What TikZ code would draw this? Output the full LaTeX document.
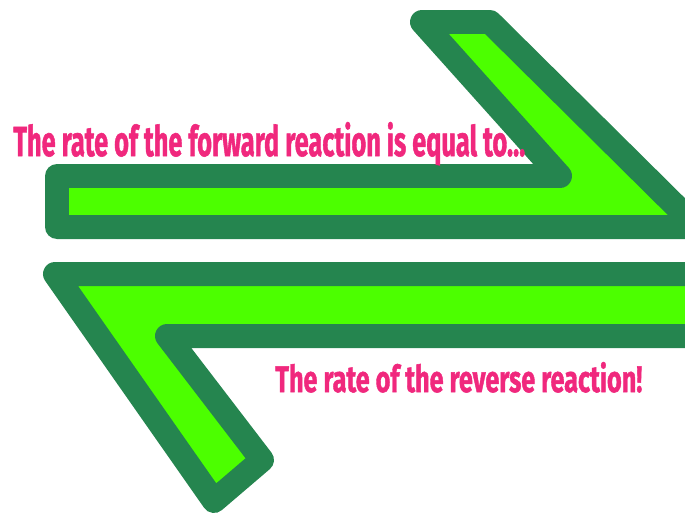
\documentclass[tikz,border=0pt]{standalone}
\usepackage{fontspec}
\usepackage{graphicx}
\newfontfamily\labelfont[BoldFeatures={FakeBold=1.5}]{Fira Sans}
\usetikzlibrary{calc}

\begin{document}
\begin{tikzpicture}[x=0.02cm, y=-0.02cm]
    % Define stroke width
    \def\borderWidth{0.48cm}

    \definecolor{borderColour}{HTML}{25854F}
    \definecolor{fillColour}{HTML}{4CFF00}
    \definecolor{textColour}{HTML}{F0287D}

    % Fix the frame
    \useasboundingbox (0,0) rectangle (685,517);
    \clip (0,0) rectangle (685,517);

    % Define the vertices for the upper (forward) half arrow
    \coordinate (F1) at (57,176);
    \coordinate (F2) at (560,176);
    \coordinate (F3) at (422,22);
    \coordinate (F4) at (490,22);
    \coordinate (F5) at (697,227);
    \coordinate (F6) at (57,227);

    % Define the vertices for the lower (reverse) half arrow
    \coordinate (R1) at (55,274);
    \coordinate (R2) at (700,274);
    \coordinate (R3) at (700,336);
    \coordinate (R4) at (167,336);
    \coordinate (R5) at (262,460);
    \coordinate (R6) at (214,501);

    % Draw the forward half arrow
    \draw[fill=fillColour, draw=borderColour, line width=\borderWidth, line join=round]
        (F1) -- (F2) -- (F3) -- (F4) -- (F5) -- (F6) -- cycle;

    % Draw the reverse half arrow
    \draw[fill=fillColour, draw=borderColour, line width=\borderWidth, line join=round]
        (R1) -- (R2) -- (R3) -- (R4) -- (R5) -- (R6) -- cycle;

    % Label both rates
    \node[anchor=base west, inner sep=0pt, text=textColour] (forwardLabel) at (13,156)
        {\resizebox{10.24cm}{0.68cm}{\labelfont\bfseries The rate of the forward reaction is equal to...}};
    \node[anchor=base west, inner sep=0pt, text=textColour] (reverseLabel) at (275,392)
        {\resizebox{7.34cm}{0.6cm}{\labelfont\bfseries The rate of the reverse reaction!}};

\end{tikzpicture}
\end{document}
